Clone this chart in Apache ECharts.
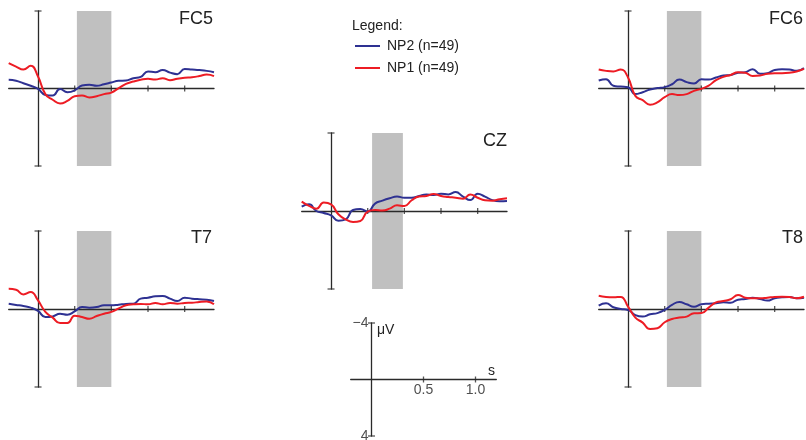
<!DOCTYPE html>
<html><head><meta charset="utf-8">
<script src="https://cdn.jsdelivr.net/npm/echarts@6/dist/echarts.min.js"></script>
<style>html,body{margin:0;padding:0;background:#fff}#c{width:806px;height:440px}</style>
</head><body><div id="c"></div>
<script>
// time samples (s)
const times = [-0.2,-0.15,-0.1,-0.05,0,0.05,0.1,0.15,0.2,0.25,0.3,0.35,0.4,0.45,0.5,0.55,0.6,0.65,0.7,0.75,0.8,0.85,0.9,0.95,1.0,1.05,1.1,1.15,1.2];
// amplitudes (µV, negative plotted up)
const fc5_np2 = [-0.45,-0.40,-0.27,-0.14,0.02,0.33,0.36,0.03,0.19,0.10,-0.15,-0.19,-0.14,-0.22,-0.31,-0.40,-0.41,-0.53,-0.60,-0.88,-0.84,-0.96,-0.82,-0.74,-1.01,-0.98,-0.95,-0.91,-0.84];
const fc5_np1 = [-1.31,-1.13,-0.98,-1.17,-0.62,0.29,0.58,0.77,0.64,0.40,0.36,0.46,0.40,0.29,0.21,-0.02,-0.24,-0.36,-0.45,-0.50,-0.46,-0.53,-0.43,-0.50,-0.55,-0.58,-0.64,-0.72,-0.64];
const fc6_np2 = [-0.41,-0.48,-0.14,-0.10,-0.07,0.29,0.19,0.05,-0.02,-0.07,-0.22,-0.46,-0.33,-0.26,-0.48,-0.46,-0.57,-0.67,-0.70,-0.81,-0.84,-1.00,-0.76,-0.79,-0.96,-1.00,-0.98,-0.91,-1.05];
const fc6_np1 = [-0.98,-0.91,-0.88,-0.98,-0.57,0.38,0.60,0.84,0.72,0.45,0.29,0.34,0.29,0.12,0.02,-0.15,-0.43,-0.60,-0.70,-0.84,-0.81,-0.65,-0.67,-0.76,-0.79,-0.79,-0.81,-0.88,-1.01];
const cz_np2 = [-0.22,-0.34,0,0.10,0.22,0.50,0.43,-0.05,-0.10,0.03,-0.38,-0.53,-0.65,-0.74,-0.68,-0.68,-0.77,-0.85,-0.82,-0.89,-0.85,-0.97,-0.74,-0.56,-0.89,-0.74,-0.56,-0.50,-0.51];
const cz_np1 = [-0.48,-0.26,-0.12,-0.43,-0.34,0.17,0.43,0.56,0.51,0.03,-0.05,-0.03,-0.12,-0.29,-0.26,-0.55,-0.74,-0.77,-0.87,-0.77,-0.72,-0.68,-0.63,-0.85,-0.68,-0.55,-0.53,-0.60,-0.65];
const t7_np2 = [-0.27,-0.21,-0.15,-0.07,0.10,0.41,0.38,0.24,0.29,0.12,-0.10,-0.07,-0.10,-0.19,-0.19,-0.22,-0.26,-0.27,-0.53,-0.58,-0.65,-0.67,-0.53,-0.41,-0.58,-0.53,-0.50,-0.48,-0.41];
const t7_np1 = [-1.04,-0.99,-0.75,-0.87,-0.44,0.15,0.44,0.72,0.72,0.34,0.41,0.50,0.36,0.24,0.15,-0.03,-0.19,-0.24,-0.26,-0.24,-0.31,-0.24,-0.31,-0.27,-0.31,-0.32,-0.36,-0.38,-0.24];
const t8_np2 = [-0.17,-0.29,-0.09,0,0.05,0.31,0.39,0.27,0.21,0.05,-0.21,-0.36,-0.24,-0.12,-0.24,-0.27,-0.29,-0.34,-0.32,-0.48,-0.51,-0.58,-0.51,-0.43,-0.55,-0.60,-0.62,-0.55,-0.58];
const t8_np1 = [-0.68,-0.62,-0.60,-0.62,-0.12,0.44,0.70,1.03,0.99,0.68,0.51,0.44,0.39,0.22,0.21,-0.07,-0.34,-0.41,-0.50,-0.72,-0.58,-0.55,-0.55,-0.58,-0.62,-0.63,-0.62,-0.55,-0.63];
const channels = ['FC5','FC6','CZ','T7','T8'];
const boxStart = [0.265,0.265,0.28,0.265,0.265];
const boxEnd = [0.5,0.5,0.49,0.5,0.5];
const panelTicks = [0.25,0.5,0.75,1.0];
const scaleTicks = [0.5,1.0];
const scaleYLabels = [-4,4];
const yCaps = [-4,4];
const seriesNames = ['NP2 (n=49)','NP1 (n=49)'];

const np2Data = [fc5_np2, fc6_np2, cz_np2, t7_np2, t8_np2];
const np1Data = [fc5_np1, fc6_np1, cz_np1, t7_np1, t8_np1];

const BLUE = '#2e3192', RED = '#ed1c24', AX = '#2a2a2a', BOX = '#c0c0c0';
const FONT = '"Liberation Sans", Arial, sans-serif';

const grids = [
  {left:8.7, top:11, width:205.3, height:155},
  {left:598.7, top:11, width:205.3, height:155},
  {left:301.7, top:133, width:205.3, height:156},
  {left:8.7, top:231, width:205.3, height:156},
  {left:598.7, top:231, width:205.3, height:156},
  {left:350.7, top:323, width:145.6, height:113}
].map(g => Object.assign(g, {containLabel:false, outerBoundsMode:'none'}));

const xAxes = [], yAxes = [], series = [];
grids.forEach((g, i) => {
  xAxes.push({
    gridIndex:i, type:'value', min:-0.2, max:1.2, z:2,
    axisLine:{show:true, onZero:true, lineStyle:{color:AX, width:1.3}},
    axisTick:{show:false}, splitLine:{show:false}, axisLabel:{show:false}
  });
  yAxes.push({
    gridIndex:i, type:'value', min:-4, max:4, inverse:true, z:2,
    axisLine:{show:true, onZero:true, lineStyle:{color:AX, width:1.3}},
    axisTick:{show:false}, splitLine:{show:false}, axisLabel:{show:false}
  });
});

for (let i = 0; i < 5; i++) {
  series.push({
    type:'custom', xAxisIndex:i, yAxisIndex:i, z:1, silent:true,
    data:[[boxStart[i], boxEnd[i]]],
    renderItem:(params, api) => {
      const p1 = api.coord([api.value(0), -4]);
      const p2 = api.coord([api.value(1), 4]);
      return {type:'rect', shape:{x:p1[0], y:p1[1], width:p2[0]-p1[0], height:p2[1]-p1[1]}, style:{fill:BOX}};
    }
  });
  series.push({
    name:seriesNames[0], type:'line', xAxisIndex:i, yAxisIndex:i, z:4,
    data:times.map((t,k)=>[t, np2Data[i][k]]), showSymbol:false, smooth:0.5,
    lineStyle:{color:BLUE, width:2}, itemStyle:{color:BLUE}
  });
  series.push({
    name:seriesNames[1], type:'line', xAxisIndex:i, yAxisIndex:i, z:4,
    data:times.map((t,k)=>[t, np1Data[i][k]]), showSymbol:false, smooth:0.5,
    lineStyle:{color:RED, width:2}, itemStyle:{color:RED}
  });
}
for (let i = 0; i < 6; i++) {
  const ticks = i === 5 ? scaleTicks : panelTicks;
  series.push({
    type:'scatter', xAxisIndex:i, yAxisIndex:i, z:3, silent:true,
    symbol:'rect', symbolSize:[1.3, 6], itemStyle:{color:AX},
    data:ticks.map(t=>[t, 0])
  });
  series.push({
    type:'scatter', xAxisIndex:i, yAxisIndex:i, z:3, silent:true,
    symbol:'rect', symbolSize:[7, 1.3], itemStyle:{color:AX},
    data:yCaps.map(v=>[0, v])
  });
}
// scale-bar labels placed through the scale panel's axes
series.push({
  type:'scatter', xAxisIndex:5, yAxisIndex:5, z:3, silent:true, symbolSize:0,
  data:scaleTicks.map(t=>[t, 0]),
  label:{show:true, position:'bottom', distance:4, formatter:p=>p.value[0].toFixed(1),
    fontSize:14, fontFamily:FONT, color:'#222'}
});
series.push({
  type:'scatter', xAxisIndex:5, yAxisIndex:5, z:3, silent:true, symbolSize:0,
  data:scaleYLabels.map(v=>[0, v]),
  label:{show:true, position:'left', distance:3, formatter:p=>p.value[1]<0?'\u2212'+(-p.value[1]):String(p.value[1]),
    fontSize:14, fontFamily:FONT, color:'#222'}
});

const labelPos = [
  {x:213, y:19}, {x:803, y:19}, {x:507, y:141}, {x:212, y:238}, {x:803, y:238}
];
const graphics = channels.map((c, i) => ({
  type:'text', x:labelPos[i].x, y:labelPos[i].y,
  style:{text:c, fontSize:18, fontFamily:FONT, fill:'#222', align:'right', verticalAlign:'middle'}
}));
graphics.push({type:'text', x:352, y:26, style:{text:'Legend:', fontSize:14, fontFamily:FONT, fill:'#222', align:'left', verticalAlign:'middle'}});
graphics.push({type:'text', x:377, y:330, style:{text:'\u03bcV', fontSize:14, fontFamily:FONT, fill:'#222', align:'left', verticalAlign:'middle'}});
graphics.push({type:'text', x:488, y:371, style:{text:'s', fontSize:14, fontFamily:FONT, fill:'#222', align:'left', verticalAlign:'middle'}});

const chart = echarts.init(document.getElementById('c'));
chart.setOption({
  animation:false,
  backgroundColor:'#fff',
  grid:grids,
  xAxis:xAxes,
  yAxis:yAxes,
  legend:{
    data:seriesNames, orient:'vertical', left:350, top:34, itemWidth:25, itemHeight:2, itemGap:8,
    icon:'rect', textStyle:{fontSize:14, fontFamily:FONT, color:'#222', padding:[0,0,0,2]}
  },
  graphic:graphics,
  series:series
});
</script></body></html>
